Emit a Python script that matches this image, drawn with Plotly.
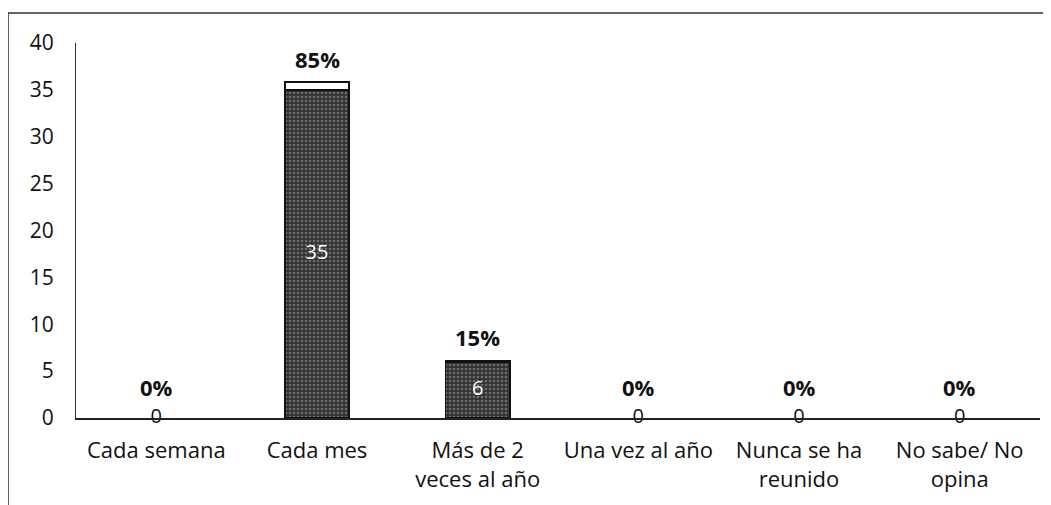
import plotly.graph_objects as go

categories = ["Cada semana", "Cada mes", "Más de 2<br>veces al año", "Una vez al año", "Nunca se ha<br>reunido", "No sabe/ No<br>opina"]
counts = [0, 35, 6, 0, 0, 0]
percents = [0.0, 0.85, 0.15, 0.0, 0.0, 0.0]
pct_labels = ["0%", "85%", "15%", "0%", "0%", "0%"]

FONT = "Open Sans"

fig = go.Figure()
fig.add_trace(go.Bar(
    x=categories, y=counts, width=0.4,
    marker=dict(color="#4a4a4a",
                line=dict(color="#111", width=[1.5 if c > 0 else 0 for c in counts]),
                pattern=dict(shape=".", fgcolor="#a8a8a8", bgcolor="#333333", size=4, solidity=0.35)),
    hoverinfo="skip", showlegend=False,
))
fig.add_trace(go.Bar(
    x=categories, y=percents, width=0.4,
    marker=dict(color="white", line=dict(color="#111", width=[1.5 if p > 0 else 0 for p in percents])),
    hoverinfo="skip", showlegend=False,
))
fig.add_trace(go.Scatter(
    x=categories, y=[c / 2 for c in counts], mode="text",
    text=[str(c) for c in counts], cliponaxis=False,
    textfont=dict(family=FONT, size=20, color=["white" if c > 0 else "#111" for c in counts]),
    hoverinfo="skip", showlegend=False,
))
for cat, c, p, lab in zip(categories, counts, percents, pct_labels):
    fig.add_annotation(x=cat, y=c + p, text="<b>" + lab + "</b>", showarrow=False,
                       yshift=31 if c + p == 0 else 23,
                       font=dict(family=FONT, size=22, color="#111"))

fig.add_shape(type="rect", xref="paper", yref="paper", x0=-0.0705, x1=1.03, y0=-0.3, y1=1.08,
              line=dict(color="#333", width=1.5), layer="below")

fig.update_layout(
    width=1043, height=497, barmode="stack",
    margin=dict(l=68, r=11, t=35, b=87, autoexpand=False),
    paper_bgcolor="white", plot_bgcolor="white",
    font=dict(family=FONT, size=21, color="#111"),
    xaxis=dict(showgrid=False, showline=True, linecolor="#222", linewidth=1.5, ticks="",
               tickfont=dict(family=FONT, size=22), fixedrange=True, automargin=False,
               ticklabelstandoff=12),
    yaxis=dict(range=[0, 40], dtick=5, showgrid=False, showline=True, linecolor="#333", linewidth=1.2,
               ticks="", zeroline=False, ticklabelstandoff=17, automargin=False,
               tickfont=dict(family=FONT, size=21), fixedrange=True),
)
fig.write_html("out.html")
